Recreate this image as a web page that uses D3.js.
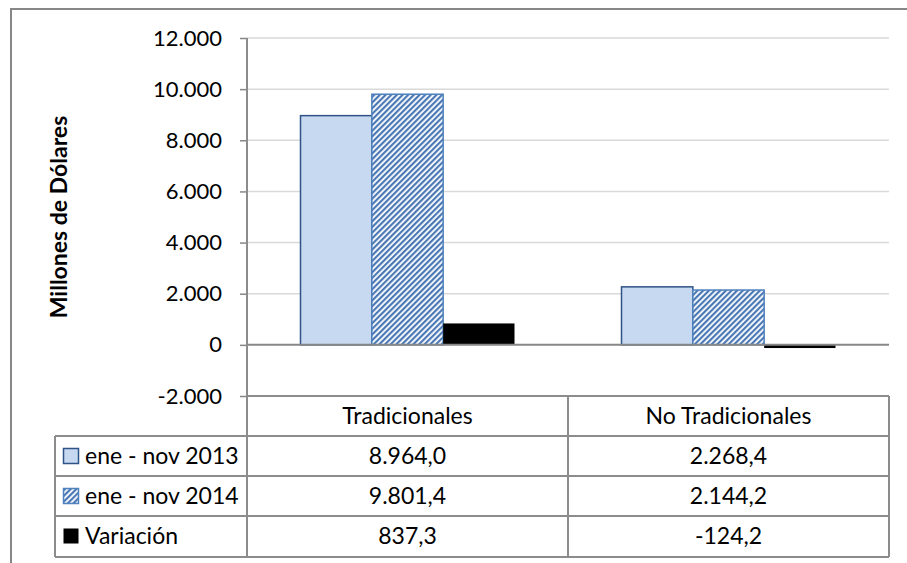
<!DOCTYPE html>
<html>
<head>
<meta charset="utf-8">
<script src="https://cdn.jsdelivr.net/npm/d3@7"></script>
<style>
  body { margin: 0; background: #fff; }
  text { font-family: Lato, "Open Sans", sans-serif; fill: #000; }
</style>
</head>
<body>
<div id="chart"></div>
<script>
// datos
var categories = ["Tradicionales", "No Tradicionales"];
var seriesNames = ["ene - nov 2013", "ene - nov 2014", "Variación"];
var s2013 = [8964.0, 2268.4];
var s2014 = [9801.4, 2144.2];
var variacion = [837.3, -124.2];
var yTicks = [-2000, 0, 2000, 4000, 6000, 8000, 10000, 12000];
var yTitle = "Millones de Dólares";

var series = [s2013, s2014, variacion];

var width = 907, height = 563;
var plot = {left: 247, right: 889, top: 38, bottom: 396};
var tableLeft = 55, rowH = 40;
var headerBottom = 436;

var es = d3.formatLocale({decimal: ",", thousands: ".", grouping: [3], currency: ["", ""], minus: "-"});
var fmtTick = es.format(",.0f");
var fmtVal = es.format(",.1f");

var svg = d3.select("#chart").append("svg")
    .attr("width", width)
    .attr("height", height);

var defs = svg.append("defs");
var pat = defs.append("pattern")
    .attr("id", "hatch")
    .attr("patternUnits", "userSpaceOnUse")
    .attr("width", 4)
    .attr("height", 4)
    .attr("patternTransform", "rotate(45)");
pat.append("rect").attr("width", 4).attr("height", 4).attr("fill", "#fff");
pat.append("rect").attr("width", 2.2).attr("height", 4).attr("fill", "#4a78b5");

var fills = ["#c6d9f1", "url(#hatch)", "#000"];
var strokes = ["#2f5287", "#4f81bd", "none"];

// marco exterior
svg.append("path")
    .attr("d", "M11,563V9H907")
    .attr("fill", "none")
    .attr("stroke", "#878787")
    .attr("stroke-width", 2);

var y = d3.scaleLinear().domain([-2000, 12000]).range([plot.bottom, plot.top]);
var x = d3.scaleBand().domain(categories).range([plot.left, plot.right]);
var xs = d3.scaleBand().domain(seriesNames).range([0, x.bandwidth()]).paddingOuter(0.75);

// lineas de cuadricula
svg.append("g")
    .selectAll("line")
    .data(yTicks.filter(function(d) { return d > 0; }))
    .enter().append("line")
    .attr("x1", plot.left).attr("x2", plot.right)
    .attr("y1", function(d) { return y(d); })
    .attr("y2", function(d) { return y(d); })
    .attr("stroke", "#d9d9d9")
    .attr("stroke-width", 1.5);

// barras
var groups = svg.append("g")
    .selectAll("g")
    .data(categories)
    .enter().append("g")
    .attr("transform", function(d) { return "translate(" + x(d) + ",0)"; });

groups.selectAll("rect")
    .data(function(c, ci) {
        return series.map(function(s, si) { return {name: seriesNames[si], v: s[ci], si: si}; });
    })
    .enter().append("rect")
    .attr("x", function(d) { return xs(d.name); })
    .attr("width", xs.bandwidth())
    .attr("y", function(d) { return y(Math.max(0, d.v)); })
    .attr("height", function(d) { return Math.abs(y(d.v) - y(0)); })
    .attr("fill", function(d) { return fills[d.si]; })
    .attr("stroke", function(d) { return strokes[d.si]; })
    .attr("stroke-width", 1.5);

// linea del cero
svg.append("line")
    .attr("x1", plot.left).attr("x2", plot.right)
    .attr("y1", y(0)).attr("y2", y(0))
    .attr("stroke", "#878787")
    .attr("stroke-width", 2);

// eje y
var yAxis = svg.append("g")
    .attr("transform", "translate(" + plot.left + ",0)")
    .call(d3.axisLeft(y).tickValues(yTicks).tickFormat(fmtTick).tickSize(7).tickPadding(18));
yAxis.select(".domain").remove();
yAxis.selectAll(".tick line").attr("stroke", "#878787").attr("stroke-width", 1.5);
yAxis.selectAll(".tick text")
    .style("font-family", "Lato, sans-serif")
    .style("font-size", "22px")
    .attr("fill", "#000");

svg.append("text")
    .attr("transform", "translate(67," + 217 + ") rotate(-90)")
    .attr("text-anchor", "middle")
    .style("font-size", "23px")
    .style("font-weight", "bold")
    .text(yTitle);

// tabla de datos
var tableBottom = headerBottom + rowH * seriesNames.length + 1;
var grid = svg.append("g").attr("stroke", "#8c8c8c").attr("stroke-width", 2);
grid.append("line").attr("x1", plot.left).attr("x2", plot.right).attr("y1", plot.bottom).attr("y2", plot.bottom);
seriesNames.forEach(function(s, i) {
    grid.append("line").attr("x1", tableLeft).attr("x2", plot.right)
        .attr("y1", headerBottom + i * rowH).attr("y2", headerBottom + i * rowH);
});
grid.append("line").attr("x1", tableLeft).attr("x2", plot.right).attr("y1", tableBottom).attr("y2", tableBottom);
grid.append("line").attr("x1", tableLeft).attr("x2", tableLeft).attr("y1", headerBottom).attr("y2", tableBottom);
grid.append("line").attr("x1", plot.left).attr("x2", plot.left).attr("y1", plot.top).attr("y2", tableBottom);
categories.forEach(function(c) {
    grid.append("line").attr("x1", x(c) + x.bandwidth()).attr("x2", x(c) + x.bandwidth())
        .attr("y1", plot.bottom).attr("y2", tableBottom);
});

svg.append("g").selectAll("text")
    .data(categories)
    .enter().append("text")
    .attr("x", function(d) { return x(d) + x.bandwidth() / 2; })
    .attr("y", (plot.bottom + headerBottom) / 2)
    .attr("dy", "0.36em")
    .attr("text-anchor", "middle")
    .style("font-size", "23px")
    .text(function(d) { return d; });

var rows = svg.append("g").selectAll("g")
    .data(seriesNames)
    .enter().append("g")
    .attr("transform", function(d, i) { return "translate(0," + (headerBottom + i * rowH + rowH / 2) + ")"; });

rows.append("rect")
    .attr("x", 63.5).attr("y", -7.5)
    .attr("width", 15).attr("height", 15)
    .attr("fill", function(d, i) { return fills[i]; })
    .attr("stroke", function(d, i) { return strokes[i]; })
    .attr("stroke-width", 1.5);

rows.append("text")
    .attr("x", 85)
    .attr("dy", "0.36em")
    .style("font-size", "23px")
    .text(function(d) { return d; });

rows.each(function(s, si) {
    d3.select(this).selectAll("text.val")
        .data(series[si])
        .enter().append("text")
        .attr("class", "val")
        .attr("x", function(d, ci) { return x(categories[ci]) + x.bandwidth() / 2; })
        .attr("dy", "0.36em")
        .attr("text-anchor", "middle")
        .style("font-size", "23px")
        .text(function(d) { return fmtVal(d); });
});
</script>
</body>
</html>
